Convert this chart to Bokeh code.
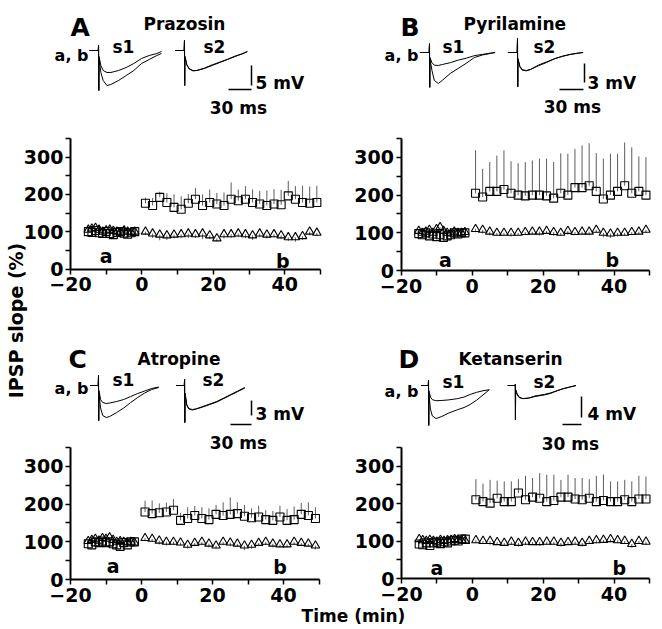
import math
from bokeh.plotting import figure
from bokeh.models import Range1d, FixedTicker, Label, LinearAxis, CustomJSTickFormatter
from bokeh.embed import file_html
from bokeh.resources import INLINE

FONT = "DejaVu Sans"

# ---------------- data ----------------
x_pre = [-15, -14, -13, -12, -11, -10, -9, -8, -7, -6, -5, -4, -3, -2]
x_post = [1, 3, 5, 7, 9, 11, 13, 15, 17, 19, 21, 23, 25, 27, 29, 31, 33, 35, 37, 39, 41, 43, 45, 47, 49]
x_ticks = [-20, 0, 20, 40]
x_minor = [-10, 10, 30, 50]
y_ticks = [0, 100, 200, 300]
y_minor = [50, 150, 250, 350]

panel_letters = ["A", "B", "C", "D"]
drug_names = ["Prazosin", "Pyrilamine", "Atropine", "Ketanserin"]
mv_bars = [5, 3, 3, 4]
ms_bar = 30

# s1 (squares) and s2 (triangles), IPSP slope (%)
A_sq_pre = [100, 98, 103, 97, 95, 100, 95, 92, 98, 100, 96, 93, 97, 100]
A_sq_pre_err = [6, 5, 7, 6, 5, 6, 5, 6, 5, 6, 5, 6, 5, 5]
A_tri_pre = [105, 108, 110, 105, 100, 103, 105, 102, 100, 98, 103, 100, 98, 100]
A_tri_pre_err = [5, 6, 5, 6, 5, 5, 6, 5, 5, 6, 5, 5, 6, 5]
A_sq_post = [176, 170, 192, 178, 165, 160, 176, 187, 170, 178, 174, 170, 187, 183, 187, 178, 174, 170, 174, 172, 196, 187, 178, 176, 178]
A_sq_post_err = [15, 20, 15, 25, 35, 35, 25, 30, 30, 35, 30, 35, 45, 30, 35, 35, 35, 40, 40, 40, 40, 35, 45, 45, 45]
A_tri_post = [100, 95, 92, 90, 92, 93, 95, 93, 95, 90, 82, 93, 93, 95, 93, 90, 95, 92, 93, 90, 85, 85, 88, 100, 97]
A_tri_post_err = [8, 12, 15, 12, 10, 10, 12, 10, 15, 10, 8, 12, 10, 10, 10, 12, 10, 10, 8, 10, 10, 12, 10, 10, 8]

B_sq_pre = [98, 95, 100, 92, 97, 90, 95, 88, 92, 95, 100, 97, 100, 100]
B_sq_pre_err = [6, 5, 6, 6, 5, 6, 5, 6, 5, 6, 5, 6, 5, 5]
B_tri_pre = [105, 100, 103, 108, 100, 110, 115, 105, 100, 98, 103, 100, 100, 102]
B_tri_pre_err = [5, 6, 5, 6, 5, 5, 6, 5, 5, 6, 5, 5, 6, 5]
B_sq_post = [205, 195, 210, 210, 215, 205, 200, 198, 200, 200, 198, 192, 205, 200, 220, 220, 225, 210, 190, 200, 210, 225, 205, 210, 200]
B_sq_post_err = [114, 75, 78, 95, 104, 85, 85, 90, 92, 97, 99, 96, 106, 110, 103, 112, 113, 102, 107, 110, 100, 115, 122, 93, 101]
B_tri_post = [110, 108, 103, 100, 100, 100, 100, 102, 103, 103, 105, 102, 100, 105, 102, 103, 103, 108, 100, 98, 100, 100, 102, 103, 108]
B_tri_post_err = [8, 10, 10, 8, 8, 10, 8, 8, 8, 10, 8, 10, 8, 10, 8, 8, 10, 8, 12, 12, 10, 8, 8, 8, 8]

C_sq_pre = [95, 92, 100, 98, 102, 98, 100, 95, 92, 88, 98, 92, 100, 100]
C_sq_pre_err = [6, 5, 6, 6, 5, 6, 5, 6, 5, 6, 5, 6, 5, 5]
C_tri_pre = [102, 105, 108, 103, 110, 108, 112, 105, 100, 102, 100, 98, 100, 98]
C_tri_pre_err = [5, 6, 5, 6, 5, 5, 6, 5, 5, 6, 5, 5, 6, 5]
C_sq_post = [179, 175, 177, 179, 184, 157, 162, 170, 162, 159, 173, 170, 173, 175, 168, 164, 166, 159, 157, 166, 157, 159, 173, 170, 162]
C_sq_post_err = [30, 35, 25, 25, 30, 20, 30, 25, 30, 30, 25, 35, 45, 30, 30, 25, 30, 25, 25, 30, 30, 35, 30, 35, 30]
C_tri_post = [110, 108, 103, 100, 100, 98, 92, 97, 100, 95, 90, 100, 98, 95, 90, 92, 97, 100, 95, 93, 93, 100, 97, 95, 90]
C_tri_post_err = [8, 8, 10, 10, 8, 8, 10, 8, 8, 10, 8, 8, 10, 8, 12, 10, 8, 8, 10, 8, 8, 8, 8, 8, 10]

D_sq_pre = [92, 90, 95, 88, 95, 97, 93, 98, 95, 100, 102, 100, 105, 105]
D_sq_pre_err = [6, 5, 6, 6, 5, 6, 5, 6, 5, 6, 5, 6, 5, 5]
D_tri_pre = [105, 102, 100, 103, 100, 98, 103, 100, 102, 103, 105, 103, 102, 100]
D_tri_pre_err = [5, 6, 5, 6, 5, 5, 6, 5, 5, 6, 5, 5, 6, 5]
D_sq_post = [210, 205, 201, 214, 205, 205, 228, 210, 217, 214, 205, 208, 217, 217, 212, 210, 214, 205, 208, 205, 205, 210, 205, 212, 212]
D_sq_post_err = [55, 48, 62, 47, 54, 54, 37, 64, 51, 67, 72, 69, 46, 60, 56, 58, 51, 69, 69, 54, 54, 53, 54, 62, 60]
D_tri_post = [102, 100, 100, 97, 95, 98, 95, 98, 97, 97, 98, 98, 95, 97, 98, 95, 100, 102, 103, 105, 102, 100, 92, 100, 98]
D_tri_post_err = [8, 8, 10, 8, 8, 8, 10, 8, 8, 10, 8, 8, 10, 8, 8, 10, 8, 8, 8, 8, 8, 8, 10, 8, 8]

# sample traces (time in ms, potential in mV); a = before, b = after
A_t = [-8, 0, 3.5, 4, 4.3, 4.6, 7, 10, 15, 20, 30, 40, 50, 60, 70, 80, 86]
A_s1_a = [0, 0, 0, 1.25, -10, -1.5, -3.75, -5, -5.5, -5.5, -5, -4.25, -3.25, -2, -1.25, -0.75, -0.25]
A_s1_b = [0, 0, 0, 1.25, -10, -2, -5.5, -7.5, -8.75, -8.5, -7.5, -6.25, -5, -3.25, -2.25, -1.25, -0.75]
A_s2_a = [0, 0, 0, 2.5, -8.75, -1.5, -3.5, -4.5, -5, -5, -4.5, -3.75, -3, -2.25, -1.5, -0.75, -0.25]
A_s2_b = [0, 0, 0, 2.5, -8.75, -1.5, -3.6, -4.6, -5.1, -5, -4.4, -3.6, -2.9, -2.2, -1.4, -0.8, -0.3]

B_t = [-8, 0, 3.5, 4, 4.3, 4.6, 7, 10, 15, 20, 30, 40, 50, 60, 70, 80, 86]
B_s1_a = [0, 0, 0, 1.4, -5.5, -0.8, -1.6, -2.0, -2.05, -1.9, -1.6, -1.2, -0.9, -0.5, -0.3, -0.1, 0]
B_s1_b = [0, 0, 0, 1.4, -5.5, -1, -2.8, -4.4, -4.9, -4.4, -3.3, -2.5, -1.7, -0.8, -0.4, -0.15, 0]
B_s2_a = [0, 0, 0, 2.2, -5.4, -1, -2.2, -2.7, -2.85, -2.7, -2.1, -1.6, -1.0, -0.6, -0.3, -0.1, 0]
B_s2_b = [0, 0, 0, 2.2, -5.4, -1, -2.3, -2.8, -2.9, -2.7, -2.0, -1.5, -1.0, -0.6, -0.3, -0.1, 0]

C_t = [-8, 0, 3.5, 4, 4.3, 4.6, 7, 10, 15, 20, 30, 40, 50, 60, 70, 80, 90]
C_s1_a = [0, 0, 0, 2, -7, -1, -2.8, -3.4, -3.6, -3.5, -3.2, -2.8, -2.2, -1.6, -1.1, -0.6, -0.3]
C_s1_b = [0, 0, 0, 2, -7, -1.5, -4.5, -6, -6.4, -6.2, -5.4, -4.5, -3.4, -2.4, -1.5, -0.8, -0.4]
C_s2_a = [0, 0, 0, 1.2, -7.4, -1.5, -3.8, -4.6, -4.8, -4.7, -4.3, -3.8, -3.3, -2.6, -1.9, -1.2, -0.5]
C_s2_b = [0, 0, 0, 1.2, -7.4, -1.5, -3.9, -4.7, -4.9, -4.7, -4.2, -3.7, -3.2, -2.5, -1.8, -1.1, -0.4]

D_t = [-8, 0, 3.5, 4, 4.3, 4.6, 7, 10, 16, 25, 35, 50, 60, 70, 80, 90, 100]
D_s1_a = [0, 0, 0, 0.95, -7.6, -1, -2.2, -2.7, -2.9, -2.85, -2.75, -2.5, -2.2, -1.7, -1.3, -1.0, -0.8]
D_s1_b = [0, 0, 0, 0.95, -7.6, -1.5, -4.5, -5.8, -6.3, -5.9, -5.3, -4.6, -4.2, -3.6, -2.8, -1.8, -0.8]
D_s2_a = [0, 0, 0, 0.2, -6.5, -0.8, -1.6, -2.2, -2.5, -2.4, -2.1, -1.8, -1.5, -1.0, -0.6, -0.3, 0]
D_s2_b = [0, 0, 0, 0.2, -6.5, -0.8, -1.7, -2.3, -2.5, -2.4, -2.0, -1.7, -1.4, -1.0, -0.6, -0.3, 0]

panels_data = [
    dict(sq_pre=A_sq_pre, sq_pre_err=A_sq_pre_err, tri_pre=A_tri_pre, tri_pre_err=A_tri_pre_err,
         sq_post=A_sq_post, sq_post_err=A_sq_post_err, tri_post=A_tri_post, tri_post_err=A_tri_post_err,
         t=A_t, s1a=A_s1_a, s1b=A_s1_b, s2a=A_s2_a, s2b=A_s2_b),
    dict(sq_pre=B_sq_pre, sq_pre_err=B_sq_pre_err, tri_pre=B_tri_pre, tri_pre_err=B_tri_pre_err,
         sq_post=B_sq_post, sq_post_err=B_sq_post_err, tri_post=B_tri_post, tri_post_err=B_tri_post_err,
         t=B_t, s1a=B_s1_a, s1b=B_s1_b, s2a=B_s2_a, s2b=B_s2_b),
    dict(sq_pre=C_sq_pre, sq_pre_err=C_sq_pre_err, tri_pre=C_tri_pre, tri_pre_err=C_tri_pre_err,
         sq_post=C_sq_post, sq_post_err=C_sq_post_err, tri_post=C_tri_post, tri_post_err=C_tri_post_err,
         t=C_t, s1a=C_s1_a, s1b=C_s1_b, s2a=C_s2_a, s2b=C_s2_b),
    dict(sq_pre=D_sq_pre, sq_pre_err=D_sq_pre_err, tri_pre=D_tri_pre, tri_pre_err=D_tri_pre_err,
         sq_post=D_sq_post, sq_post_err=D_sq_post_err, tri_post=D_tri_post, tri_post_err=D_tri_post_err,
         t=D_t, s1a=D_s1_a, s1b=D_s1_b, s2a=D_s2_a, s2b=D_s2_b),
]

# ---------------- geometry (picture pixels; canvas spans 0..660 x 0..625) ----------------
PL, PR, PT, PB = 0, 660, 0, 625
# panel axes: x of t=-20, px per min, y of 0 %, px per %
axes_geom = [
    dict(px0=70, pxu=3.57, py0=268.5, pyu=0.3733),
    dict(px0=400.5, pxu=3.55, py0=270, pyu=0.3767),
    dict(px0=70, pxu=3.55, py0=579, pyu=0.3767),
    dict(px0=401, pxu=3.543, py0=578, pyu=0.375),
]
insets = [
    dict(x0=95, y0=50, pxms=0.767, pxmv=4.0, s2shift=112, vbx=251, vbb=85, hby=89, hbr=251,
         letter=(70, 27), name=(143, 23), ab=(88, 55), s1=(112, 46), s2=(203, 46), mv=(255, 82), ms=(238, 107),
         a=(-10, 35), b=(39.5, 22)),
    dict(x0=425.8, y0=52, pxms=0.8, pxmv=6.33, s2shift=110, vbx=584, vbb=82, hby=89, hbr=583,
         letter=(400, 27), name=(463, 23), ab=(418, 55), s1=(442, 46), s2=(533, 46), mv=(587, 82), ms=(572, 106),
         a=(-7.5, 29), b=(39.5, 27)),
    dict(x0=95.2, y0=385, pxms=0.7, pxmv=5.0, s2shift=123, vbx=251, vbb=415, hby=424, hbr=251,
         letter=(68, 359), name=(137, 358), ab=(88, 388), s1=(112, 379), s2=(202, 379), mv=(255, 413), ms=(238, 442),
         a=(-8, 35), b=(39, 32)),
    dict(x0=425.5, y0=385, pxms=0.633, pxmv=5.25, s2shift=137, vbx=581, vbb=417, hby=424, hbr=581,
         letter=(398, 359), name=(458, 358), ab=(418, 391), s1=(442, 381), s2=(533, 381), mv=(587, 413), ms=(570, 443),
         a=(-10, 27), b=(41.5, 27)),
]

p = figure(width=PR - PL, height=PB - PT, x_range=Range1d(PL, PR), y_range=Range1d(PB, PT),
           output_backend="svg", toolbar_location=None, x_axis_location=None,
           y_axis_location=None, min_border=0)
p.outline_line_color = None
p.background_fill_color = "white"
p.border_fill_color = "white"
p.grid.visible = False
p.xgrid.grid_line_color = None
p.ygrid.grid_line_color = None

xranges, yranges = {}, {}


def txt(x, y, s, size, align="left", xr="default", yr="default", baseline="alphabetic", angle=0.0):
    p.add_layout(Label(x=x, y=y, x_range_name=xr, y_range_name=yr, text=s, angle=angle,
                       text_font=FONT, text_font_size=size, text_font_style="bold",
                       text_color="black", text_align=align, text_baseline=baseline))


def style_axis(ax):
    ax.axis_line_width = 2
    ax.axis_line_color = "black"
    ax.major_tick_line_width = 1.5
    ax.minor_tick_line_width = 1.5
    ax.major_tick_line_color = "black"
    ax.minor_tick_line_color = "black"
    ax.major_tick_in = 0
    ax.major_tick_out = 5
    ax.minor_tick_in = 0
    ax.minor_tick_out = 5
    ax.major_label_text_font = FONT
    ax.major_label_text_font_size = "19px"
    ax.major_label_text_font_style = "bold"
    ax.major_label_text_color = "black"


for i in range(4):
    d, g, s = panels_data[i], axes_geom[i], insets[i]
    xr, yr, mr, vr = f"x{i}", f"y{i}", f"ms{i}", f"mv{i}"
    xranges[xr] = Range1d(-20 - (g["px0"] - PL) / g["pxu"], -20 + (PR - g["px0"]) / g["pxu"])
    yranges[yr] = Range1d(-(PB - g["py0"]) / g["pyu"], (g["py0"] - PT) / g["pyu"])
    xranges[mr] = Range1d((PL - s["x0"]) / s["pxms"], (PR - s["x0"]) / s["pxms"])
    yranges[vr] = Range1d((s["y0"] - PB) / s["pxmv"], (s["y0"] - PT) / s["pxmv"])

    xa = LinearAxis(x_range_name=xr, y_range_name=yr, fixed_location=0, bounds=(-20, 50),
                    ticker=FixedTicker(ticks=x_ticks, minor_ticks=x_minor),
                    formatter=CustomJSTickFormatter(
                        code="return tick < 0 ? '\u2212' + String(-tick) : String(tick);"))
    style_axis(xa)
    xa.major_label_standoff = 3
    p.add_layout(xa, "below")
    ya = LinearAxis(x_range_name=xr, y_range_name=yr, fixed_location=-20, bounds=(0, 350),
                    ticker=FixedTicker(ticks=y_ticks, minor_ticks=y_minor))
    style_axis(ya)
    ya.major_label_standoff = 2
    p.add_layout(ya, "left")

    # error bars: squares upward, triangles downward
    for xs, ys, es, sign in [(x_pre, d["sq_pre"], d["sq_pre_err"], 1),
                             (x_post, d["sq_post"], d["sq_post_err"], 1),
                             (x_pre, d["tri_pre"], d["tri_pre_err"], -1),
                             (x_post, d["tri_post"], d["tri_post_err"], -1)]:
        p.segment(x0=xs, y0=ys, x1=xs, y1=[v + sign * e for v, e in zip(ys, es)],
                  x_range_name=xr, y_range_name=yr, line_color="#333333", line_width=0.8)
    for xs, ys in [(x_pre, d["tri_pre"]), (x_post, d["tri_post"])]:
        p.scatter(xs, ys, marker="triangle", size=8.5, fill_color=None, x_range_name=xr,
                  y_range_name=yr, line_color="black", line_width=1.1)
    for xs, ys in [(x_pre, d["sq_pre"]), (x_post, d["sq_post"])]:
        p.scatter(xs, ys, marker="square", size=8, fill_color=None, x_range_name=xr,
                  y_range_name=yr, line_color="black", line_width=1.1)

    # sample traces
    t2 = [t + s["s2shift"] for t in d["t"]]
    for xs, ys in [(d["t"], d["s1a"]), (d["t"], d["s1b"]), (t2, d["s2a"]), (t2, d["s2b"])]:
        p.line(xs, ys, x_range_name=mr, y_range_name=vr, line_color="black", line_width=1)

    # scale bars
    bx = (s["vbx"] - s["x0"]) / s["pxms"]
    vb_bot = (s["y0"] - s["vbb"]) / s["pxmv"]
    p.segment(x0=[bx], y0=[vb_bot], x1=[bx], y1=[vb_bot + mv_bars[i]],
              x_range_name=mr, y_range_name=vr, line_color="black", line_width=1.5)
    hx = (s["hbr"] - s["x0"]) / s["pxms"]
    hy = (s["y0"] - s["hby"]) / s["pxmv"]
    p.segment(x0=[hx - ms_bar], y0=[hy], x1=[hx], y1=[hy],
              x_range_name=mr, y_range_name=vr, line_color="black", line_width=1.5)

    txt(*s["letter"], panel_letters[i], "25px")
    txt(*s["name"], drug_names[i], "17px")
    txt(*s["ab"], "a, b", "16px", align="right")
    txt(*s["s1"], "s1", "17px")
    txt(*s["s2"], "s2", "17px")
    txt(*s["mv"], f"{mv_bars[i]} mV", "17px")
    txt(*s["ms"], f"{ms_bar} ms", "17px", align="center")
    txt(*s["a"], "a", "19px", align="center", xr=xr, yr=yr)
    txt(*s["b"], "b", "19px", align="center", xr=xr, yr=yr)

p.extra_x_ranges = xranges
p.extra_y_ranges = yranges

# shared axis titles
txt(15, 320, "IPSP slope (%)", "19px", align="center", baseline="middle", angle=math.pi / 2)
txt(353, 615, "Time (min)", "17px", align="center", baseline="middle")

with open("out.html", "w") as f:
    f.write(file_html(p, INLINE))
